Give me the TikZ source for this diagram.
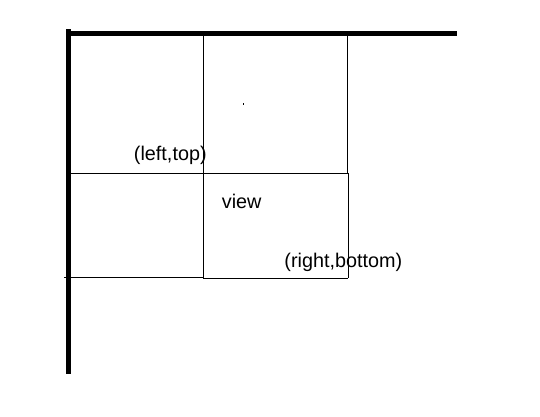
\documentclass[tikz,border=0pt]{standalone}
\usepackage{fontspec}
\setmainfont{Liberation Sans}
\begin{document}
\begin{tikzpicture}[x=1pt,y=-1pt,
  thickline/.style={line width=4.7pt},
  thinline/.style={line width=1pt},
  lbl/.style={inner sep=0pt,anchor=base,font=\fontsize{19.8}{22}\selectfont}]
\useasboundingbox[fill=white] (0,0) rectangle (540,416);
% thick axes
\draw[thickline] (68.3,29) -- (68.3,373.5);
\draw[thickline] (66,33.3) -- (457,33.3);
% thin lines
\draw[thinline] (203.3,35) -- (203.3,277.5);
\draw[thinline] (347,35) -- (347,173.3);
\draw[thinline] (68,173.3) -- (348.3,173.3);
\draw[thinline] (348.3,173.3) -- (348.3,278);
\draw[thinline] (64,277) -- (203.3,277);
\draw[thinline] (203.3,278) -- (348.3,278);
% dot
\fill (242.8,102.7) rectangle (243.8,104.7);
% labels
\node[lbl] (lt) at (170.3,160.8) {(left,top)};
\node[lbl] (view) at (241.7,208.5) {view};
\node[lbl] (rb) at (343.3,267.5) {(right,bottom)};
\end{tikzpicture}
\end{document}
